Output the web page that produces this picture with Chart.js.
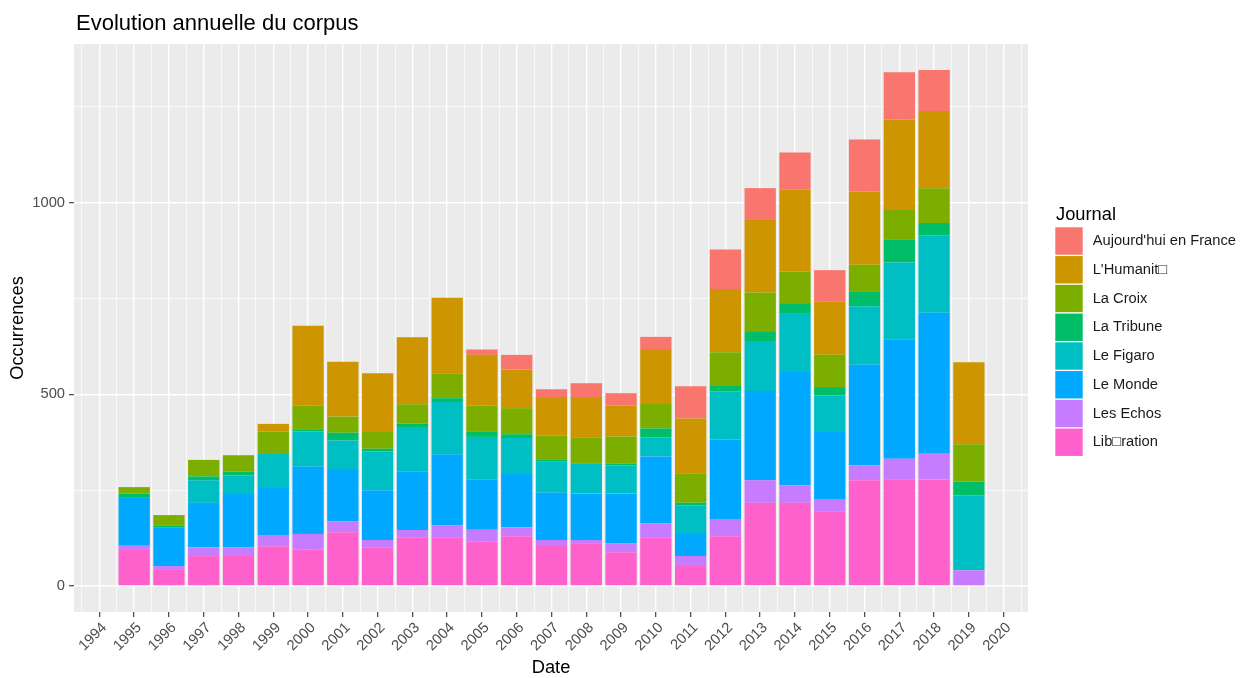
<!DOCTYPE html>
<html>
<head>
<meta charset="utf-8">
<script src="https://cdn.jsdelivr.net/npm/chart.js@4/dist/chart.umd.min.js"></script>
<style>
  body { margin: 0; background: #fff; }
</style>
</head>
<body>
<canvas id="corpusChart" width="1252" height="678"></canvas>
<script>
// années avec des barres
var years = [1995, 1996, 1997, 1998, 1999, 2000, 2001, 2002, 2003, 2004, 2005, 2006, 2007,
             2008, 2009, 2010, 2011, 2012, 2013, 2014, 2015, 2016, 2017, 2018, 2019];

// occurrences par journal
var aujourdhui = [0, 0, 0, 0, 0, 0, 0, 0, 0, 0, 14, 38, 20, 36, 32, 32, 84, 103, 83, 97, 81, 136, 123, 107, 0];
var humanite   = [0, 0, 0, 0, 20, 208, 143, 153, 175, 198, 132, 101, 101, 106, 81, 143, 143, 165, 189, 214, 140, 191, 236, 201, 214];
var croix      = [17, 28, 43, 43, 56, 62, 42, 44, 51, 64, 69, 68, 61, 66, 70, 64, 77, 88, 101, 84, 84, 69, 78, 91, 97];
var tribune    = [11, 4, 10, 10, 2, 6, 20, 7, 8, 10, 13, 10, 7, 2, 5, 23, 6, 14, 26, 26, 22, 39, 59, 32, 36];
var figaro     = [0, 0, 59, 48, 89, 92, 75, 101, 117, 136, 112, 94, 81, 78, 74, 50, 75, 126, 130, 152, 95, 153, 200, 202, 196];
var monde      = [125, 101, 116, 139, 123, 175, 136, 130, 152, 186, 130, 139, 123, 121, 130, 175, 58, 207, 233, 296, 175, 262, 312, 366, 0];
var echos      = [11, 10, 23, 23, 29, 41, 29, 19, 19, 31, 30, 23, 13, 10, 23, 36, 26, 45, 59, 45, 32, 39, 55, 69, 41];
var liberation = [94, 42, 78, 78, 104, 95, 140, 101, 127, 127, 117, 130, 107, 110, 88, 127, 52, 130, 217, 217, 195, 276, 277, 278, 0];

var journals = ["Aujourd'hui en France", "L'Humanit\u25A1", "La Croix", "La Tribune",
                "Le Figaro", "Le Monde", "Les Echos", "Lib\u25A1ration"];
var series = [aujourdhui, humanite, croix, tribune, figaro, monde, echos, liberation];
var colors = ["#F8766D", "#CD9600", "#7CAE00", "#00BE67", "#00BFC4", "#00A9FF", "#C77CFF", "#FF61CC"];

// graduations
var xTickLabels = [1994, 1995, 1996, 1997, 1998, 1999, 2000, 2001, 2002, 2003, 2004, 2005, 2006, 2007,
                   2008, 2009, 2010, 2011, 2012, 2013, 2014, 2015, 2016, 2017, 2018, 2019, 2020];
var yTickLabels = [0, 500, 1000];

var FONT = "'Liberation Sans', Arial, 'DejaVu Sans', sans-serif";

// lignes mineures au milieu des graduations
function withMinor(major, step) {
  var out = [];
  out.push(major[0] - step / 2);
  major.forEach(function (v) { out.push(v); out.push(v + step / 2); });
  return out;
}
var xGrid = withMinor(xTickLabels, 1);
var yGrid = withMinor(yTickLabels, 500).filter(function (v) { return v >= 0; });

function isMajorX(v) { return xTickLabels.indexOf(v) >= 0; }
function isMajorY(v) { return yTickLabels.indexOf(v) >= 0; }

// ggplot empile le premier niveau en haut : on inverse pour Chart.js
var datasets = [];
for (var i = journals.length - 1; i >= 0; i--) {
  datasets.push({
    label: journals[i],
    data: years.map(function (y, k) { return { x: y, y: series[i][k] }; }),
    backgroundColor: colors[i],
    borderWidth: 0,
    // l'écart mini vient des lignes mineures (1/2 an), d'où 2 x 0.9
    categoryPercentage: 2.0,
    barPercentage: 0.9
  });
}

var ggPlugin = {
  id: "ggplot",
  beforeDraw: function (chart) {
    var a = chart.chartArea, c = chart.ctx;
    c.save();
    c.fillStyle = "#EBEBEB";
    c.fillRect(a.left, a.top, a.right - a.left, a.bottom - a.top);
    c.restore();
  },
  afterDraw: function (chart) {
    var a = chart.chartArea, c = chart.ctx;
    c.save();
    // titre
    c.fillStyle = "#000";
    c.font = "22px " + FONT;
    c.textAlign = "left";
    c.textBaseline = "alphabetic";
    c.fillText("Evolution annuelle du corpus", 76, 30);
    // titres d'axes
    c.font = "18.3px " + FONT;
    c.textAlign = "center";
    c.textBaseline = "middle";
    c.fillText("Date", (a.left + a.right) / 2, 668);
    c.save();
    c.translate(18, (a.top + a.bottom) / 2);
    c.rotate(-Math.PI / 2);
    c.fillText("Occurrences", 0, 0);
    c.restore();
    // légende
    c.textAlign = "left";
    c.textBaseline = "alphabetic";
    c.fillText("Journal", 1056, 220);
    c.font = "14.7px " + FONT;
    c.textBaseline = "middle";
    var top = 227.3, step = 28.75, size = 27.4;
    journals.forEach(function (name, j) {
      var y = top + j * step;
      c.fillStyle = colors[j];
      c.fillRect(1055.3, y, size, size);
      c.fillStyle = "#1A1A1A";
      c.fillText(name, 1092.7, y + size / 2);
    });
    c.restore();
  }
};

var ctx = document.getElementById("corpusChart");
var chart = new Chart(ctx, {
  type: "bar",
  data: { datasets: datasets },
  plugins: [ggPlugin],
  options: {
    responsive: false,
    animation: false,
    devicePixelRatio: 1,
    layout: { padding: { left: 0, top: 44, right: 224, bottom: 0 } },
    plugins: {
      legend: { display: false },
      title: { display: false },
      tooltip: { enabled: false }
    },
    scales: {
      x: {
        type: "linear",
        stacked: true,
        offset: false,
        min: 1993.27,
        max: 2020.7,
        afterBuildTicks: function (scale) {
          scale.ticks = xGrid.map(function (v) { return { value: v }; });
        },
        afterFit: function (scale) { scale.height = 66; },
        border: { display: false },
        grid: {
          offset: false,
          color: "#FFFFFF",
          lineWidth: function (c) { return c.tick && isMajorX(c.tick.value) ? 1.4 : 0.7; },
          drawTicks: true,
          tickLength: 5,
          tickWidth: 1.1,
          tickColor: function (c) { return c.tick && isMajorX(c.tick.value) ? "#333333" : "rgba(0,0,0,0)"; }
        },
        ticks: {
          autoSkip: false,
          minRotation: 45,
          maxRotation: 45,
          padding: 2,
          labelOffset: 5,
          color: "#4D4D4D",
          font: { family: FONT, size: 14.7 },
          callback: function (v) { return isMajorX(v) ? String(v) : ""; }
        }
      },
      y: {
        stacked: true,
        min: -67.8,
        max: 1414,
        afterBuildTicks: function (scale) {
          scale.ticks = yGrid.map(function (v) { return { value: v }; });
        },
        afterFit: function (scale) { scale.width = 74; },
        border: { display: false },
        grid: {
          color: "#FFFFFF",
          lineWidth: function (c) { return c.tick && isMajorY(c.tick.value) ? 1.4 : 0.7; },
          drawTicks: true,
          tickLength: 5,
          tickWidth: 1.1,
          tickColor: function (c) { return c.tick && isMajorY(c.tick.value) ? "#333333" : "rgba(0,0,0,0)"; }
        },
        ticks: {
          padding: 4,
          color: "#4D4D4D",
          font: { family: FONT, size: 14.7 },
          callback: function (v) { return isMajorY(v) ? String(v) : ""; }
        }
      }
    }
  }
});
</script>
</body>
</html>
